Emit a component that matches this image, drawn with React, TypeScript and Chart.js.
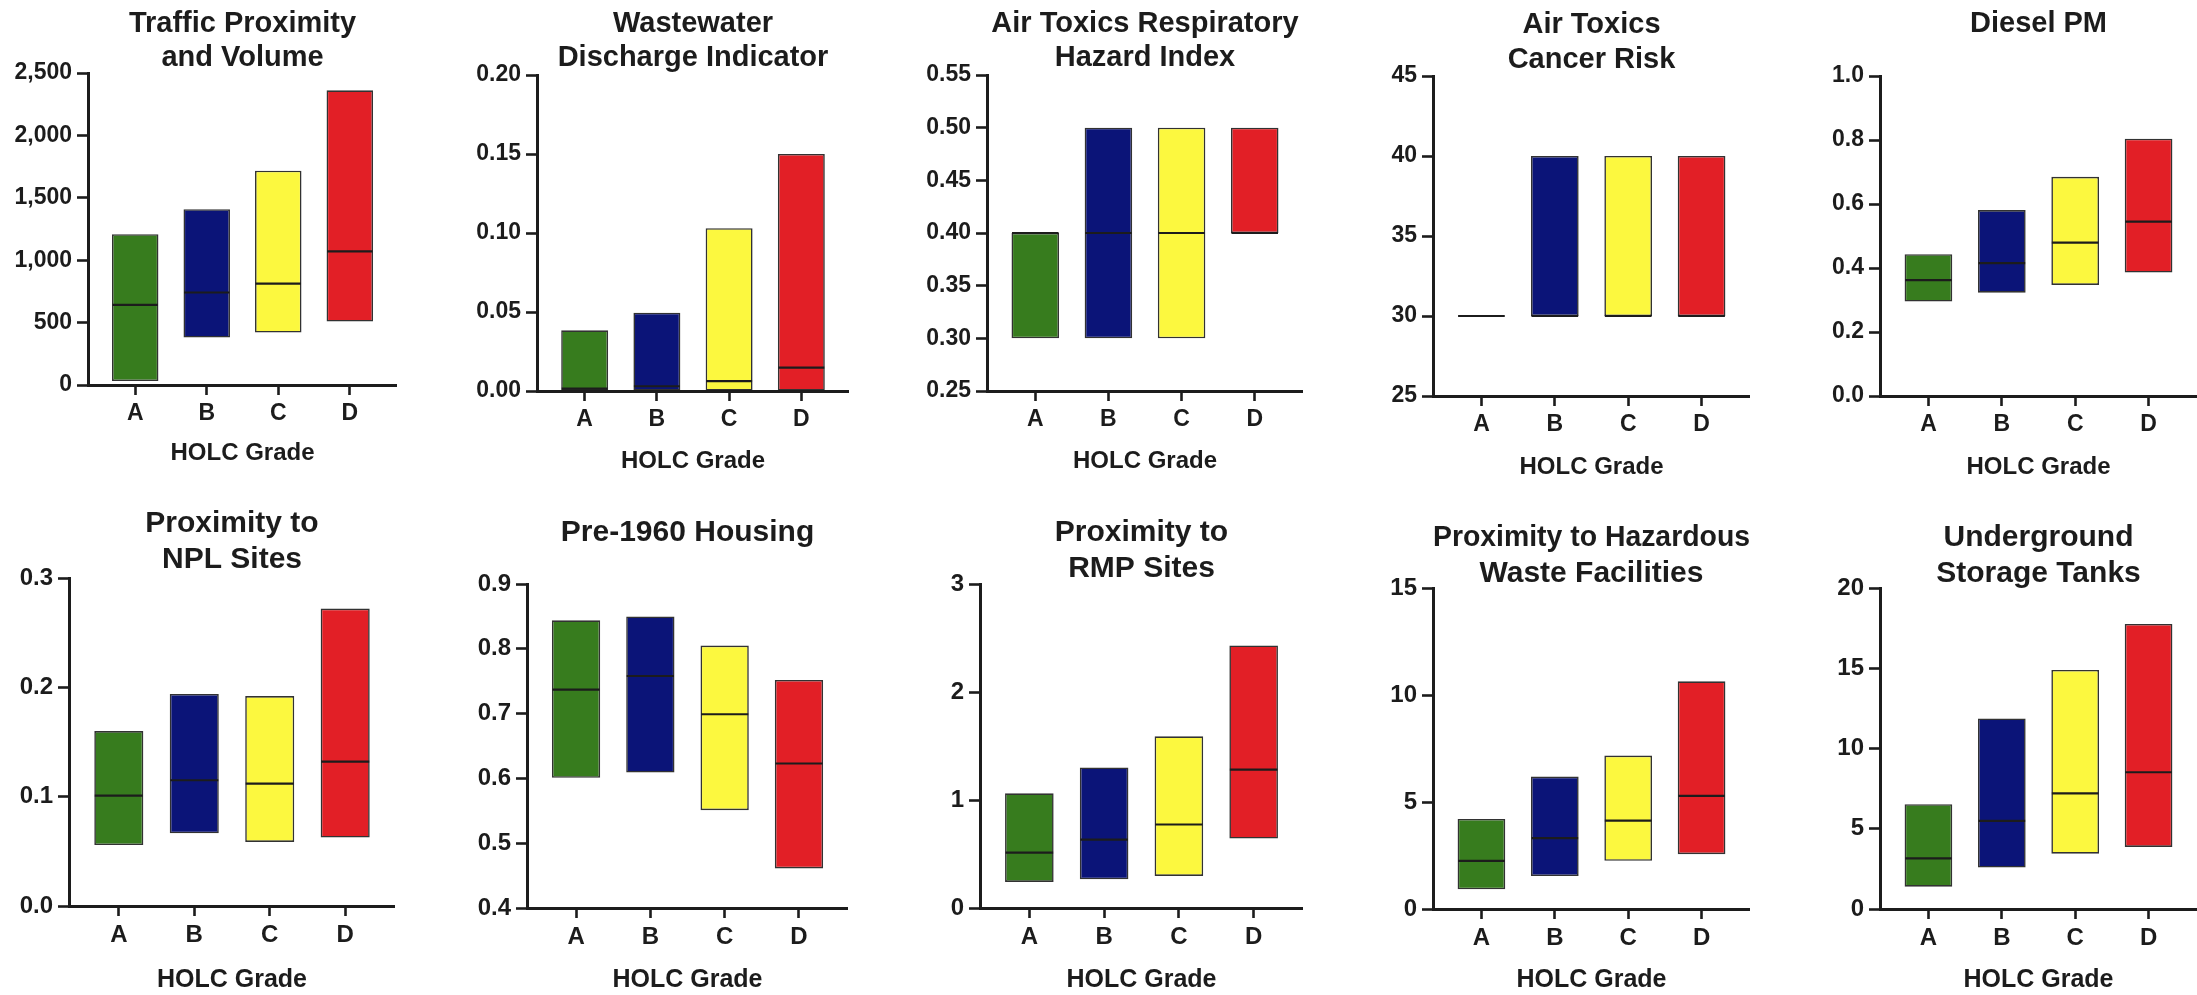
import React, { useEffect, useRef } from 'react';
import { Chart, registerables } from 'chart.js';

Chart.register(...registerables);

// ---------- data ----------
const grades = ['A', 'B', 'C', 'D'];
const gradeX = [1, 2, 3, 4];
const gradeColors = ['#377C1E', '#0B1478', '#FCF83F', '#E21F26'];

const trafficLow = [32, 380, 420, 508];
const trafficHigh = [1208, 1409, 1717, 2361];
const trafficMedian = [642, 741, 813, 1070];

const wastewaterLow = [0, 0, 0, 0];
const wastewaterHigh = [0.0384, 0.0496, 0.103, 0.15];
const wastewaterMedian = [0.0015, 0.003, 0.0063, 0.0148];

const respLow = [0.3, 0.3, 0.3, 0.4];
const respHigh = [0.4, 0.5, 0.5, 0.5];
const respMedian = [0.4, 0.4, 0.4, 0.4];

const cancerLow = [30, 30, 30, 30];
const cancerHigh = [30, 40, 40, 40];
const cancerMedian = [30, 30, 30, 30];

const dieselLow = [0.295, 0.323, 0.347, 0.386];
const dieselHigh = [0.443, 0.581, 0.685, 0.804];
const dieselMedian = [0.362, 0.415, 0.479, 0.545];

const nplLow = [0.0558, 0.0665, 0.0586, 0.0626];
const nplHigh = [0.16, 0.194, 0.192, 0.272];
const nplMedian = [0.101, 0.115, 0.112, 0.132];

const housingLow = [0.601, 0.609, 0.551, 0.461];
const housingHigh = [0.844, 0.85, 0.805, 0.752];
const housingMedian = [0.737, 0.758, 0.699, 0.623];

const rmpLow = [0.241, 0.266, 0.297, 0.643];
const rmpHigh = [1.062, 1.302, 1.59, 2.431];
const rmpMedian = [0.513, 0.634, 0.773, 1.281];

const hazLow = [0.92, 1.54, 2.25, 2.56];
const hazHigh = [4.21, 6.19, 7.17, 10.64];
const hazMedian = [2.25, 3.31, 4.13, 5.29];

const ustLow = [1.39, 2.58, 3.45, 3.87];
const ustHigh = [6.53, 11.87, 14.89, 17.76];
const ustMedian = [3.16, 5.49, 7.21, 8.52];

const xAxisLabel = 'HOLC Grade';

type Spec = {
  title: string | string[];
  low: number[];
  high: number[];
  median: number[];
  yMin: number;
  yMax: number;
  yStep: number;
  decimals: number;
  comma?: boolean;
};

const specs: Spec[] = [
  { title: ['Traffic Proximity', 'and Volume'], low: trafficLow, high: trafficHigh, median: trafficMedian, yMin: 0, yMax: 2500, yStep: 500, decimals: 0, comma: true },
  { title: ['Wastewater', 'Discharge Indicator'], low: wastewaterLow, high: wastewaterHigh, median: wastewaterMedian, yMin: 0, yMax: 0.2, yStep: 0.05, decimals: 2 },
  { title: ['Air Toxics Respiratory', 'Hazard Index'], low: respLow, high: respHigh, median: respMedian, yMin: 0.25, yMax: 0.55, yStep: 0.05, decimals: 2 },
  { title: ['Air Toxics', 'Cancer Risk'], low: cancerLow, high: cancerHigh, median: cancerMedian, yMin: 25, yMax: 45, yStep: 5, decimals: 0 },
  { title: 'Diesel PM', low: dieselLow, high: dieselHigh, median: dieselMedian, yMin: 0, yMax: 1, yStep: 0.2, decimals: 1 },
  { title: ['Proximity to', 'NPL Sites'], low: nplLow, high: nplHigh, median: nplMedian, yMin: 0, yMax: 0.3, yStep: 0.1, decimals: 1 },
  { title: 'Pre-1960 Housing', low: housingLow, high: housingHigh, median: housingMedian, yMin: 0.4, yMax: 0.9, yStep: 0.1, decimals: 1 },
  { title: ['Proximity to', 'RMP Sites'], low: rmpLow, high: rmpHigh, median: rmpMedian, yMin: 0, yMax: 3, yStep: 1, decimals: 0 },
  { title: ['Proximity to Hazardous', 'Waste Facilities'], low: hazLow, high: hazHigh, median: hazMedian, yMin: 0, yMax: 15, yStep: 5, decimals: 0 },
  { title: ['Underground', 'Storage Tanks'], low: ustLow, high: ustHigh, median: ustMedian, yMin: 0, yMax: 20, yStep: 5, decimals: 0 },
];

// ---------- layout (pixel geometry of each panel) ----------
type Box = { axisX: number; right: number; top: number; bottom: number; titleY: number; holcY: number; row: number };
const boxes: Box[] = [
  { axisX: 88, right: 397, top: 73, bottom: 385, titleY: 23.5, holcY: 454, row: 0 },
  { axisX: 537, right: 849, top: 75, bottom: 391, titleY: 23.5, holcY: 461.5, row: 0 },
  { axisX: 987, right: 1303, top: 75, bottom: 391, titleY: 23.5, holcY: 461.5, row: 0 },
  { axisX: 1433, right: 1750, top: 76, bottom: 396, titleY: 25, holcY: 468, row: 0 },
  { axisX: 1880, right: 2197, top: 76, bottom: 396, titleY: 24, holcY: 468, row: 0 },
  { axisX: 69, right: 395, top: 578, bottom: 906, titleY: 524, holcY: 979.5, row: 1 },
  { axisX: 527, right: 848, top: 584, bottom: 908, titleY: 533, holcY: 979.5, row: 1 },
  { axisX: 980, right: 1303, top: 584, bottom: 908, titleY: 532.5, holcY: 979.5, row: 1 },
  { axisX: 1433, right: 1750, top: 588, bottom: 909, titleY: 537.5, holcY: 980, row: 1 },
  { axisX: 1880, right: 2197, top: 588, bottom: 909, titleY: 537.5, holcY: 980, row: 1 },
];
const rowFonts = [
  { title: 29, tick: 23, axisTitle: 24 },
  { title: 30, tick: 24, axisTitle: 25 },
];

const FONT = '"Liberation Sans", Arial, Helvetica, sans-serif';
const INK = '#1c1c1c';
const Y_AXIS_W = 80;
const TITLE_LH = 1.2;
const X_MIN = 0.34;
const X_MAX = 4.66;
const BAR_FRACTION = 0.65;

function geometry(box: Box, spec: Spec) {
  const f = rowFonts[box.row];
  const lh = f.title * TITLE_LH;
  const lines = Array.isArray(spec.title) ? spec.title.length : 1;
  const canvasTop = Math.round(box.titleY - lh / 2 - 2);
  const pt = box.titleY - lh / 2 - canvasTop;
  const pb = box.top - canvasTop - pt - lines * lh;
  const alh = f.axisTitle * 1.2;
  const canvasBottom = Math.round(box.holcY + alh / 2);
  const xAxisH = canvasBottom - box.bottom;
  const left = box.axisX - Y_AXIS_W;
  const width = box.right - left;
  const height = canvasBottom - canvasTop;
  return { canvasTop, pt, pb, xAxisH, left, width, height, f };
}

function fmt(v: number, spec: Spec) {
  if (spec.comma) return Math.round(v).toLocaleString('en-US');
  return v.toFixed(spec.decimals);
}

function Panel({ spec, box }: { spec: Spec; box: Box }) {
  const ref = useRef<HTMLCanvasElement>(null);
  const g = geometry(box, spec);

  useEffect(() => {
    const bars = gradeX.map((x, i) => ({ x, y: [spec.low[i], spec.high[i]] }));
    const medians = gradeX.map((x, i) => ({ x, y: spec.median[i] }));
    const chart = new Chart(ref.current as HTMLCanvasElement, {
      type: 'bar',
      data: {
        datasets: [
          {
            type: 'line',
            label: 'Median',
            data: medians as any,
            showLine: false,
            order: 0,
            pointStyle: 'line',
            borderColor: INK,
            backgroundColor: INK,
            pointBorderWidth: 2.2,
            borderWidth: 2.2,
            pointRadius: (ctx: any) => {
              const s = ctx.chart.scales.x;
              return Math.abs(s.getPixelForValue(1 + BAR_FRACTION / 2) - s.getPixelForValue(1)) - 0.5;
            },
            pointHoverRadius: 0,
          } as any,
          {
            type: 'bar',
            label: 'Range',
            data: bars as any,
            order: 1,
            backgroundColor: gradeColors,
            borderColor: 'rgba(28,28,28,0.9)',
            borderWidth: 1.6,
            borderSkipped: false,
            barPercentage: BAR_FRACTION,
            categoryPercentage: 1,
          } as any,
        ],
      },
      options: {
        animation: false,
        responsive: false,
        maintainAspectRatio: false,
        events: [],
        layout: { padding: 0 },
        plugins: {
          legend: { display: false },
          tooltip: { enabled: false },
          title: {
            display: true,
            text: spec.title,
            fullSize: false,
            color: INK,
            font: { family: FONT, size: g.f.title, weight: 'bold', lineHeight: TITLE_LH },
            padding: { top: g.pt, bottom: g.pb },
          },
        },
        scales: {
          x: {
            type: 'linear',
            min: X_MIN,
            max: X_MAX,
            offset: false,
            afterBuildTicks: (s: any) => {
              s.ticks = gradeX.map((v) => ({ value: v }));
            },
            afterFit: (s: any) => {
              s.height = g.xAxisH;
            },
            ticks: {
              autoSkip: false,
              maxRotation: 0,
              padding: 5,
              color: INK,
              font: { family: FONT, size: g.f.tick, weight: 'bold' },
              callback: (_v: any, i: number) => grades[i],
            },
            grid: { offset: false, drawOnChartArea: false, drawTicks: true, tickLength: 10, tickWidth: 2.6, tickColor: INK },
            border: { display: true, color: INK, width: 3 },
            title: {
              display: true,
              text: xAxisLabel,
              color: INK,
              padding: 0,
              font: { family: FONT, size: g.f.axisTitle, weight: 'bold' },
            },
          },
          y: {
            type: 'linear',
            min: spec.yMin,
            max: spec.yMax,
            afterFit: (s: any) => {
              s.width = Y_AXIS_W;
            },
            ticks: {
              stepSize: spec.yStep,
              padding: 5,
              color: INK,
              font: { family: FONT, size: g.f.tick, weight: 'bold' },
              callback: (v: any) => fmt(Number(v), spec),
            },
            grid: { drawOnChartArea: false, drawTicks: true, tickLength: 11, tickWidth: 2.6, tickColor: INK },
            border: { display: true, color: INK, width: 3 },
          },
        },
      } as any,
    });
    return () => chart.destroy();
  }, []);

  return (
    <canvas
      ref={ref}
      width={g.width}
      height={g.height}
      style={{ position: 'absolute', left: g.left, top: g.canvasTop, width: g.width, height: g.height }}
    />
  );
}

export default function App() {
  return (
    <div
      style={{
        position: 'absolute',
        left: 0,
        top: 0,
        width: 2197,
        height: 995,
        overflow: 'hidden',
        background: '#ffffff',
      }}
    >
      {specs.map((s, i) => (
        <Panel key={i} spec={s} box={boxes[i]} />
      ))}
    </div>
  );
}
